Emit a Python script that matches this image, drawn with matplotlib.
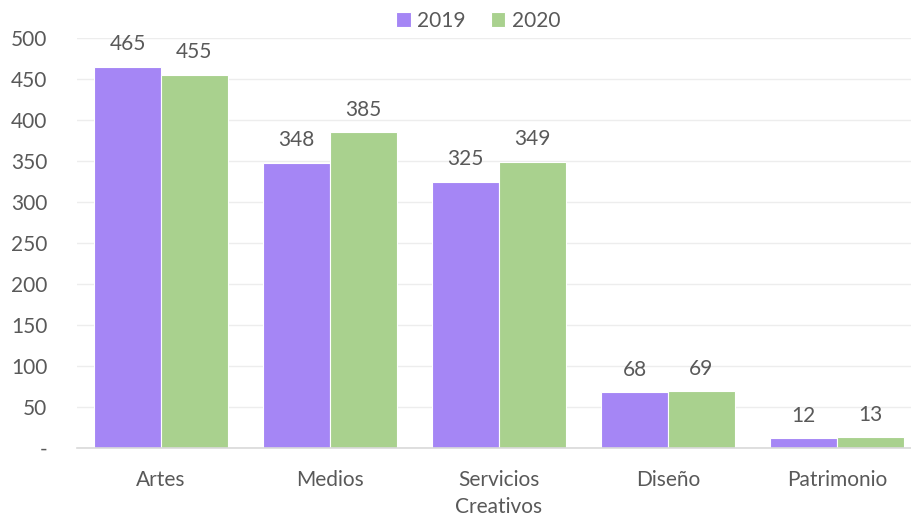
import numpy as np
import matplotlib.pyplot as plt

plt.rcParams['font.family'] = ['Lato', 'DejaVu Sans']

categories = ["Artes", "Medios", "Servicios\nCreativos", "Diseño", "Patrimonio"]
v2019 = [465, 348, 325, 68, 12]
v2020 = [455, 385, 349, 69, 13]
yticks = [0, 50, 100, 150, 200, 250, 300, 350, 400, 450, 500]
ytick_labels = ["-"] + [str(t) for t in yticks[1:]]

purple = "#A586F5"
green = "#A9D18E"
txt = "#595959"
fs = 15

fig = plt.figure(figsize=(9.11, 5.16), dpi=100)
left = 76.5 / 911
ax = fig.add_axes([left, 68 / 516, 1 - left, 410 / 516])

x = np.arange(len(categories))
w = 0.395
b1 = ax.bar(x - w / 2, v2019, w, color=purple, edgecolor="white", linewidth=0.8, label="2019")
b2 = ax.bar(x + w / 2, v2020, w, color=green, edgecolor="white", linewidth=0.8, label="2020")

for bars in (b1, b2):
    ax.bar_label(bars, padding=9, fontsize=fs, color=txt)

ax.set_ylim(0, 500)
ax.set_xlim(-0.5, 4.5 - 10.5 / 169)
ax.set_yticks(yticks)
ax.set_yticklabels(ytick_labels)
ax.set_xticks(x)
ax.set_xticklabels(categories, linespacing=1.45)
ax.tick_params(axis="both", length=0, labelsize=fs, labelcolor=txt)
ax.tick_params(axis="y", pad=21)
ax.tick_params(axis="x", pad=16)
ax.grid(axis="y", color="#EDEDED", linewidth=1)
ax.set_axisbelow(True)
for s in ["top", "right", "left"]:
    ax.spines[s].set_visible(False)
ax.spines["bottom"].set_color("#D9D9D9")
ax.spines["bottom"].set_linewidth(1.2)

fig.legend(loc="upper center", bbox_to_anchor=(0.525, 1.015), ncol=2, frameon=False,
           fontsize=fs, labelcolor=txt, handlelength=0.7, handleheight=0.7,
           handletextpad=0.3, columnspacing=1.2)

fig.savefig("out.png", dpi=100)
